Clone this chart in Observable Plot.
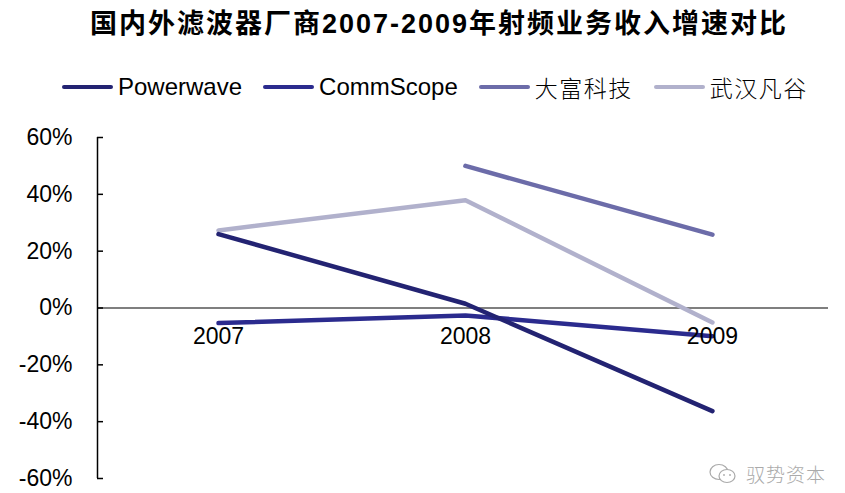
<!DOCTYPE html>
<html>
<head>
<meta charset="utf-8">
<script src="https://cdn.jsdelivr.net/npm/d3@7"></script>
<script src="https://cdn.jsdelivr.net/npm/@observablehq/plot@0.6"></script>
<style>
  html, body { margin: 0; padding: 0; background: #fff; }
  #wrap { position: relative; width: 845px; height: 493px; font-family: "Liberation Sans", Arial, "Noto Sans CJK SC", sans-serif; }
  #title { position: absolute; left: 90px; top: 6px; font-size: 27px; font-weight: bold; letter-spacing: 2px; white-space: nowrap; color: #000;
           font-family: "Liberation Sans", "Noto Sans CJK SC", sans-serif; line-height: 36px; }
  #legend { position: absolute; left: 62px; top: 71px; display: flex; gap: 21px; align-items: center; white-space: nowrap; }
  .item { display: flex; align-items: center; gap: 5px; font-size: 24px; line-height: 32px; color: #000; }
  .sw { width: 51px; height: 4px; border-radius: 2px; }
  .cjk { font-family: "Noto Sans CJK SC", sans-serif; font-weight: 300; font-size: 23px; letter-spacing: 1.5px; }
  #chart { position: absolute; left: 0; top: 110px; }
  #wm { position: absolute; left: 708px; top: 460px; font-size: 19px; color: #aaa; font-family: "Noto Sans CJK SC", sans-serif; font-weight: 300; letter-spacing: 1px; display: flex; align-items: center; gap: 8px; }
</style>
</head>
<body>
<div id="wrap">
  <div id="title">国内外滤波器厂商2007-2009年射频业务收入增速对比</div>
  <div id="legend"></div>
  <div id="chart"></div>
  <div id="wm"><svg width="30" height="24" viewBox="0 0 30 24"><ellipse cx="11" cy="10" rx="9" ry="7.5" fill="none" stroke="#aaa" stroke-width="1.2"/><ellipse cx="19" cy="14" rx="8" ry="6.5" fill="#fff" stroke="#aaa" stroke-width="1.2"/><circle cx="16" cy="13" r="0.9" fill="#aaa"/><circle cx="22" cy="13" r="0.9" fill="#aaa"/></svg><span>驭势资本</span></div>
</div>
<script>
const years = [2007, 2008, 2009];
const seriesNames = ["Powerwave", "CommScope", "大富科技", "武汉凡谷"];
const seriesColors = ["#232372", "#2b2b8e", "#6c6ca9", "#b1b1cc"];
const powerwave = [0.26, 0.015, -0.363];
const commscope = [-0.053, -0.026, -0.099];
const dafu = [null, 0.50, 0.258];
const wuhan = [0.273, 0.379, -0.051];
const yTicks = [-0.6, -0.4, -0.2, 0, 0.2, 0.4, 0.6];
const xDomain = [2006.51, 2009.47];

const seriesValues = [powerwave, commscope, dafu, wuhan];
const rows = [];
seriesNames.forEach((name, i) => {
  years.forEach((yr, j) => {
    const v = seriesValues[i][j];
    if (v != null) rows.push({series: name, year: yr, value: v});
  });
});

// legend
const legend = document.getElementById("legend");
seriesNames.forEach((name, i) => {
  const item = document.createElement("div");
  item.className = "item";
  const sw = document.createElement("div");
  sw.className = "sw";
  sw.style.background = seriesColors[i];
  const t = document.createElement("span");
  t.textContent = name;
  if (/[\u4e00-\u9fff]/.test(name)) t.className = "cjk";
  item.appendChild(sw); item.appendChild(t);
  legend.appendChild(item);
});

const drawOrder = ["武汉凡谷", "大富科技", "CommScope", "Powerwave"];

const chart = Plot.plot({
  width: 845,
  height: 383,
  marginTop: 27,
  marginBottom: 15,
  marginLeft: 97,
  marginRight: 17,
  style: {fontFamily: "Liberation Sans, Arial, sans-serif", background: "#fff"},
  x: {type: "linear", domain: xDomain, axis: null},
  y: {domain: [-0.6, 0.6], axis: null},
  color: {domain: seriesNames, range: seriesColors},
  marks: [
    Plot.ruleY([0], {stroke: "#000", strokeWidth: 1.2}),
    Plot.ruleX([xDomain[0]], {stroke: "#000", strokeWidth: 1.5}),
    Plot.axisY({ticks: yTicks, tickSize: -6, tickPadding: 31, tickFormat: d => Math.round(d * 100) + "%", fontSize: 23, stroke: "#000", strokeWidth: 1.5, color: "#000", label: null}),
    ...drawOrder.map(name => Plot.line(rows.filter(r => r.series === name), {
      x: "year", y: "value", stroke: "series", strokeWidth: 4.5, strokeLinecap: "round", strokeLinejoin: "round"
    })),
    Plot.text(years, {x: d => d, y: 0, dy: 29, text: d => String(d), fontSize: 23, fill: "#000"})
  ]
});
document.getElementById("chart").appendChild(chart);
</script>
</body>
</html>
